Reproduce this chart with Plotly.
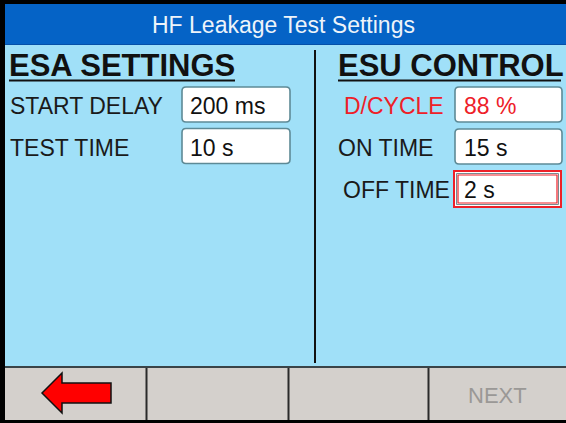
import plotly.graph_objects as go

# ---- content (text values shown on the screen) ----
title_text = "HF Leakage Test Settings"
section_titles = ["ESA SETTINGS", "ESU CONTROL"]
esa_labels = ["START DELAY", "TEST TIME"]
esa_values = ["200 ms", "10 s"]
esu_labels = ["D/CYCLE", "ON TIME", "OFF TIME"]
esu_values = ["88 %", "15 s", "2 s"]
button_labels = ["", "", "", "NEXT"]

W, H = 566, 423
FONT = "Liberation Sans, Arial, sans-serif"
BLUE_BAR = "#0563C6"
PANEL = "#A0E0F8"
GREY = "#D4D0CC"
DARK = "#1A1A1A"
RED = "#EE2028"

shapes = []
ann = []

def rect(x0, y0, x1, y1, fill=None, line=None, lw=0, layer="below"):
    shapes.append(dict(type="rect", xref="x", yref="y", x0=x0, y0=y0, x1=x1, y1=y1,
                       fillcolor=fill if fill else "rgba(0,0,0,0)",
                       line=dict(color=line if line else "rgba(0,0,0,0)", width=lw),
                       layer=layer))

def rrect(x0, y0, x1, y1, r, fill, line, lw):
    p = (f"M {x0+r} {y0} L {x1-r} {y0} Q {x1} {y0} {x1} {y0+r} L {x1} {y1-r} "
         f"Q {x1} {y1} {x1-r} {y1} L {x0+r} {y1} Q {x0} {y1} {x0} {y1-r} "
         f"L {x0} {y0+r} Q {x0} {y0} {x0+r} {y0} Z")
    shapes.append(dict(type="path", xref="x", yref="y", path=p, fillcolor=fill,
                       line=dict(color=line, width=lw), layer="above"))

def hline(x0, x1, y, color, lw):
    shapes.append(dict(type="line", xref="x", yref="y", x0=x0, x1=x1, y0=y, y1=y,
                       line=dict(color=color, width=lw), layer="above"))

def vline(x, y0, y1, color, lw):
    shapes.append(dict(type="line", xref="x", yref="y", x0=x, x1=x, y0=y0, y1=y1,
                       line=dict(color=color, width=lw), layer="above"))

def text(x, y, s, size, color, bold=False, anchor="left"):
    if bold:
        s = f"<b>{s}</b>"
    ann.append(dict(x=x, y=y, xref="x", yref="y", text=s, showarrow=False,
                    xanchor=anchor, yanchor="middle",
                    font=dict(family=FONT, size=size, color=color)))

# background regions
rect(0, 0, W, H, fill="#000000")
rect(5, 4, W, 45, fill=BLUE_BAR)
hline(5, W, 44.5, "#0550A8", 1)
rect(5, 45, W, 366, fill=PANEL)
rect(5, 368, W, 420, fill=GREY)
hline(5, W, 367, "#3A4448", 2)

# title
text(283, 25, title_text, 23, "#EEF4FA", anchor="center")

# section headers
hdr_x = [9, 338]
hdr_right = [235, 561]
for i, s in enumerate(section_titles):
    text(hdr_x[i] - 2, 65, s, 31, "#111111", bold=True)
    hline(hdr_x[i], hdr_right[i], 80.5, "#111111", 2)

# central divider
vline(315, 50, 363, "#111111", 2)

# ESA rows
esa_row_y = [105, 146.5]
for i, (lab, val) in enumerate(zip(esa_labels, esa_values)):
    yc = esa_row_y[i]
    text(8, yc + 1, lab, 23, DARK)
    rrect(182, yc - 18, 290, yc + 17, 4, "#FFFFFF", "#5E8A96", 1.6)
    text(188, yc + 1, val, 23, "#111111")

# ESU rows
esu_row_y = [105, 147, 189]
esu_lab_x = [342, 336, 341]
esu_colors = [RED, DARK, DARK]
for i, (lab, val) in enumerate(zip(esu_labels, esu_values)):
    yc = esu_row_y[i]
    text(esu_lab_x[i], yc + 1, lab, 23, esu_colors[i])
    if i == 2:
        rect(454, yc - 18, 561, yc + 18, fill="#FFFFFF", line=RED, lw=2, layer="above")
        rect(456.5, yc - 15.5, 558.5, yc + 15.5, line="#7A8A90", lw=1, layer="above")
        rect(458, yc - 14, 557, yc + 14, line=RED, lw=1.2, layer="above")
    else:
        rrect(455, yc - 18, 562, yc + 17, 4, "#FFFFFF", "#5E8A96", 1.6)
    text(462, yc + 1, val, 23, esu_colors[i] if i == 0 else "#111111")

# bottom buttons
btn_edges = [5, 146.5, 288.5, 428.5, W]
for xe in btn_edges[1:-1]:
    vline(xe, 368, 420, "#2A2A2A", 2)
for i, s in enumerate(button_labels):
    if s:
        text((btn_edges[i] + btn_edges[i + 1]) / 2, 395, s, 22, "#9A9896", anchor="center")

# back arrow
arrow = "M 42 393 L 62 373 L 62 383 L 111 383 L 111 403 L 62 403 L 62 413 Z"
shapes.append(dict(type="path", xref="x", yref="y", path=arrow, fillcolor="#FF0000",
                   line=dict(color="#111111", width=1.5), layer="above"))

fig = go.Figure()
fig.add_trace(go.Scatter(x=[0, W], y=[0, H], mode="markers",
                         marker=dict(opacity=0), hoverinfo="skip", showlegend=False))
fig.update_layout(
    width=W, height=H, margin=dict(l=0, r=0, t=0, b=0),
    paper_bgcolor="#000000", plot_bgcolor="#000000",
    xaxis=dict(range=[0, W], visible=False, fixedrange=True),
    yaxis=dict(range=[H, 0], visible=False, fixedrange=True),
    shapes=shapes, annotations=ann, showlegend=False,
)
fig.write_html("out.html", config={"displayModeBar": False},
               post_script="document.body.style.margin='0';document.body.style.padding='0';"
                           "document.body.style.overflow='hidden';"
                           "document.documentElement.style.overflow='hidden';")
